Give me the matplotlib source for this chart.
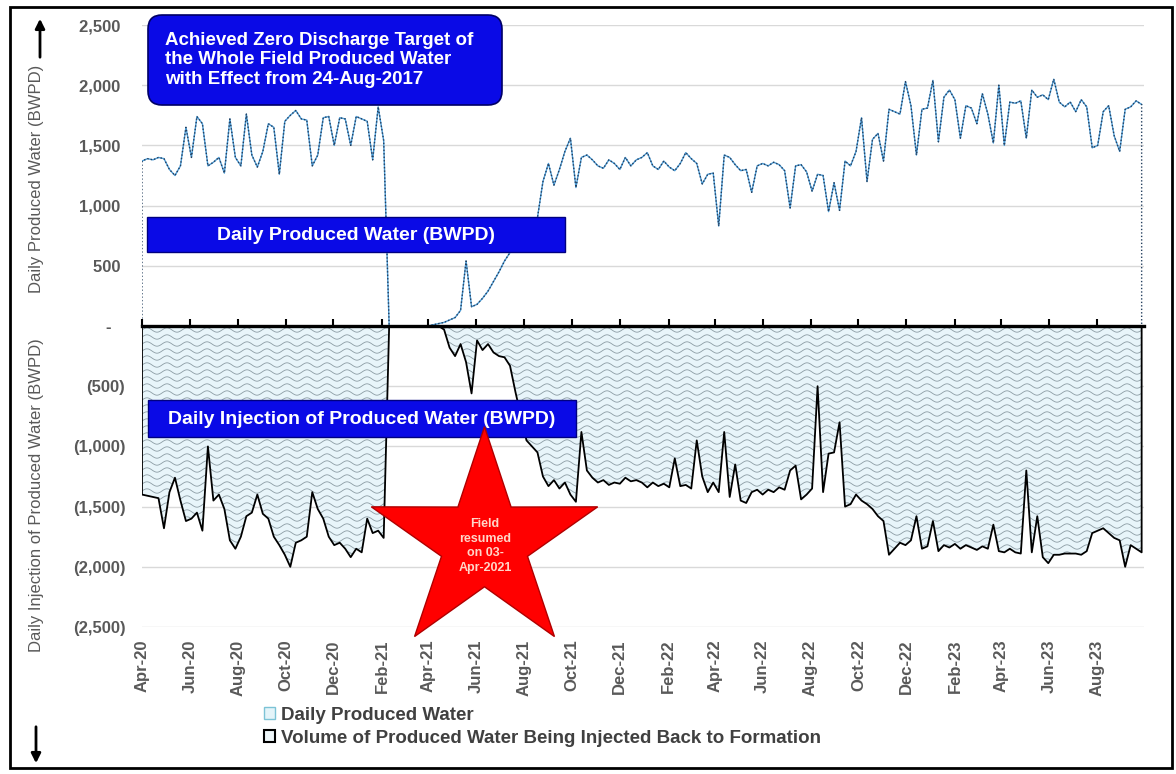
import matplotlib.pyplot as plt
import matplotlib.dates as mdates
import numpy as np
import pandas as pd
from matplotlib.collections import LineCollection
from matplotlib.patches import FancyBboxPatch, FancyArrowPatch, PathPatch, Rectangle, Patch
from matplotlib.path import Path
from matplotlib.ticker import FuncFormatter, MultipleLocator
from matplotlib.transforms import Affine2D

# weekly readings starting 01-Apr-2020 (BWPD)
produced = [
    1370, 1390, 1380, 1400, 1390, 1300, 1250, 1330, 1650, 1400,
    1740, 1680, 1330, 1360, 1400, 1270, 1720, 1400, 1330, 1760,
    1420, 1320, 1450, 1680, 1650, 1260, 1700, 1750, 1790, 1720,
    1710, 1330, 1420, 1730, 1740, 1500, 1730, 1720, 1500, 1740,
    1720, 1700, 1380, 1820, 1540,
    0, 0, 0, 0, 0, 0, 0, 0,
    10, 20, 30, 50, 70, 130, 540, 160, 180, 230,
    290, 370, 450, 540, 610, 680, 740, 800, 860, 900,
    1200, 1350, 1170, 1300, 1450, 1560, 1150, 1400, 1420, 1380,
    1330, 1310, 1380, 1350, 1300, 1400, 1330, 1380,
    1400, 1440, 1330, 1300, 1370, 1320, 1290, 1350, 1440, 1390,
    1350, 1180, 1260, 1270, 830, 1420, 1400, 1340, 1290, 1300,
    1110, 1330, 1350, 1330, 1360, 1340, 1290, 980, 1330, 1340,
    1280, 1120, 1260, 1250, 950, 1190, 960, 1370, 1330, 1450,
    1730, 1200, 1550, 1600, 1370, 1800, 1780, 1760, 2030, 1830,
    1420, 1800, 1810, 2040, 1530, 1900, 1960, 1880, 1560, 1830,
    1810, 1680, 1930, 1760, 1520, 2000, 1500, 1860, 1850, 1870,
    1560, 1960, 1900, 1920, 1880, 2050, 1860, 1820, 1860, 1780,
    1880, 1820, 1480, 1500, 1780, 1830, 1580, 1450, 1800, 1820,
    1870, 1840,
]
injected = [
    -1400, -1410, -1420, -1430, -1680, -1380, -1260, -1450, -1620, -1600,
    -1550, -1700, -1000, -1450, -1400, -1520, -1780, -1850, -1750, -1580,
    -1550, -1400, -1560, -1600, -1750, -1820, -1900, -2000, -1800, -1780,
    -1750, -1380, -1520, -1600, -1750, -1820, -1800, -1850, -1920, -1850,
    -1880, -1600, -1720, -1700, -1760,
    0, 0, 0, 0, 0, 0, 0, 0, 0, 0,
    -30, -180, -250, -150, -300, -560, -120, -200, -150, -220,
    -250, -260, -330, -550, -750, -950, -1000, -1050,
    -1250, -1330, -1280, -1350, -1300, -1400, -1460, -880, -1200, -1260,
    -1300, -1280, -1320, -1300, -1310, -1260, -1290, -1280,
    -1300, -1340, -1300, -1330, -1310, -1340, -1100, -1330, -1320, -1350,
    -950, -1250, -1380, -1300, -1380, -880, -1420, -1150, -1450, -1470,
    -1380, -1360, -1400, -1360, -1380, -1340, -1360, -1200, -1160, -1440,
    -1400, -1350, -500, -1380, -1060, -1050, -800, -1500, -1480, -1400,
    -1450, -1480, -1520, -1580, -1620, -1900, -1850, -1800, -1820, -1780,
    -1580, -1850, -1830, -1620, -1870, -1820, -1840, -1810, -1850, -1820,
    -1840, -1860, -1830, -1850, -1650, -1870, -1880, -1850, -1880, -1890,
    -1200, -1880, -1580, -1920, -1970, -1900, -1900, -1890, -1890, -1890,
    -1900, -1870, -1720, -1700, -1680, -1720, -1760, -1780, -2000, -1820,
    -1850, -1880,
]
dates = pd.date_range('2020-04-01', periods=len(produced), freq='7D')

legend_labels = ['Daily Produced Water',
                 'Volume of Produced Water Being Injected Back to Formation']
grey = '#595959'

plt.rcParams['font.family'] = ['Liberation Sans', 'DejaVu Sans']
plt.rcParams['font.weight'] = 'bold'

W, H = 1176, 774
fig = plt.figure(figsize=(W / 100, H / 100), dpi=100)
ax = fig.add_axes([142 / W, 1 - 627 / H, 1002 / W, 602 / H])
px = Affine2D().scale(1 / W, -1 / H).translate(0, 1) + fig.transFigure

# injection area: pale fill, wave pattern, black outline
area = ax.fill_between(dates, 0, injected, facecolor='#e8f5fa', edgecolor='none', zorder=1)
xs = np.linspace(0, 1, 800)
waves = [np.column_stack([xs, yy + 2.2 / 602 * np.sin(xs * 1002 / 20 * 2 * np.pi)])
         for yy in np.arange(0.5 - 4 / 602, 0, -7 / 602)]
lc = LineCollection(waves, colors='#8c9ca4', linewidths=0.6, transform=ax.transAxes, zorder=2)
ax.add_collection(lc)
lc.set_clip_path(area.get_paths()[0], ax.transData)
ax.fill_between(dates, 0, injected, facecolor='none', edgecolor='black', lw=1.3, zorder=3)

# produced water: blue line with dotted outline
ax.plot(dates, produced, color='#4a9bd6', lw=1.0, zorder=3)
ax.fill_between(dates, 0, produced, facecolor='none', edgecolor='#25405f',
                lw=1.0, linestyle=(0, (1, 1.5)), zorder=4)

ax.set_ylim(-2500, 2500)
ax.set_xlim(pd.Timestamp('2020-04-01'), pd.Timestamp('2023-09-30'))
ax.yaxis.set_major_locator(MultipleLocator(500))


def acc_fmt(v, pos):
    if v == 0:
        return '-   '
    if v < 0:
        return f'({-v:,.0f})'
    return f'{v:,.0f} '


ax.yaxis.set_major_formatter(FuncFormatter(acc_fmt))
ax.xaxis.set_major_locator(mdates.MonthLocator(bymonth=range(2, 13, 2)))
ax.xaxis.set_major_formatter(mdates.DateFormatter('%b-%y'))
ax.tick_params(axis='y', length=0, pad=12, labelsize=12, labelcolor=grey)
ax.tick_params(axis='x', length=0, pad=9, labelsize=12, labelcolor=grey, labelrotation=90)
ax.yaxis.grid(True, color='#d9d9d9', lw=1)
ax.set_axisbelow(True)
for s in ax.spines.values():
    s.set_visible(False)

zax = ax.secondary_xaxis(0.5)
zax.xaxis.set_major_locator(mdates.MonthLocator(bymonth=range(2, 13, 2)))
zax.tick_params(labeltop=False, labelbottom=False, length=5, width=1.5, color='black')
zax.spines['top'].set_linewidth(2.4)
zax.set_zorder(6)

# axis titles and arrows
fig.text(37, 179, 'Daily Produced Water (BWPD)', transform=px, rotation=90,
         ha='center', va='center', fontsize=12, fontweight='normal', color=grey)
fig.text(37, 495, 'Daily Injection of Produced Water (BWPD)', transform=px, rotation=90,
         ha='center', va='center', fontsize=12, fontweight='normal', color=grey)
fig.add_artist(FancyArrowPatch((40, 60), (40, 16), transform=px, arrowstyle='-|>',
                               mutation_scale=14, lw=2, color='black'))
fig.add_artist(FancyArrowPatch((36, 724), (36, 766), transform=px, arrowstyle='-|>',
                               mutation_scale=14, lw=2, color='black'))

# annotation boxes
fig.add_artist(FancyBboxPatch((148, 15), 354, 90, boxstyle='round,pad=0,rounding_size=14',
                              transform=px, facecolor='#0a0ae6', edgecolor='#000066', lw=1.2))
fig.text(165, 60, 'Achieved Zero Discharge Target of\nthe Whole Field Produced Water\n'
         'with Effect from 24-Aug-2017', transform=px, ha='left', va='center',
         fontsize=13.5, color='white', linespacing=1.2)
fig.add_artist(Rectangle((147, 217), 418, 35, transform=px, facecolor='#0a0ae6',
                         edgecolor='#000080', lw=1))
fig.text(356, 235, 'Daily Produced Water (BWPD)', transform=px, ha='center', va='center',
         fontsize=14, color='white')
fig.add_artist(Rectangle((148, 400), 428, 37, transform=px, facecolor='#0a0ae6',
                         edgecolor='#000080', lw=1))
fig.text(362, 419, 'Daily Injection of Produced Water (BWPD)', transform=px, ha='center',
         va='center', fontsize=14, color='white')

star = Path.unit_regular_star(5, 0.38)
fig.add_artist(PathPatch(star, transform=Affine2D().scale(119, -116).translate(484.5, 542.7) + px,
                         facecolor='#ff0000', edgecolor='#b00000', lw=1))
fig.text(485, 546, 'Field\nresumed\non 03-\nApr-2021', transform=px, ha='center', va='center',
         fontsize=9, color='#ffd5c8', linespacing=1.3)

handles = [Patch(facecolor='#e4f4f9', edgecolor='#7cc3d6', lw=1),
           Patch(facecolor='#eef6f9', edgecolor='black', lw=1.5)]
fig.legend(handles, legend_labels, loc='upper left', bbox_to_anchor=(264 / W, 1 - 707 / H),
           frameon=False, fontsize=13.5, handlelength=0.6, handleheight=0.6,
           handletextpad=0.3, labelspacing=0.3, labelcolor='#404040',
           borderpad=0, borderaxespad=0)

fig.add_artist(Rectangle((10, 7), 1162, 761, transform=px, fill=False, lw=2, edgecolor='black'))

fig.savefig('out.png', dpi=100)
